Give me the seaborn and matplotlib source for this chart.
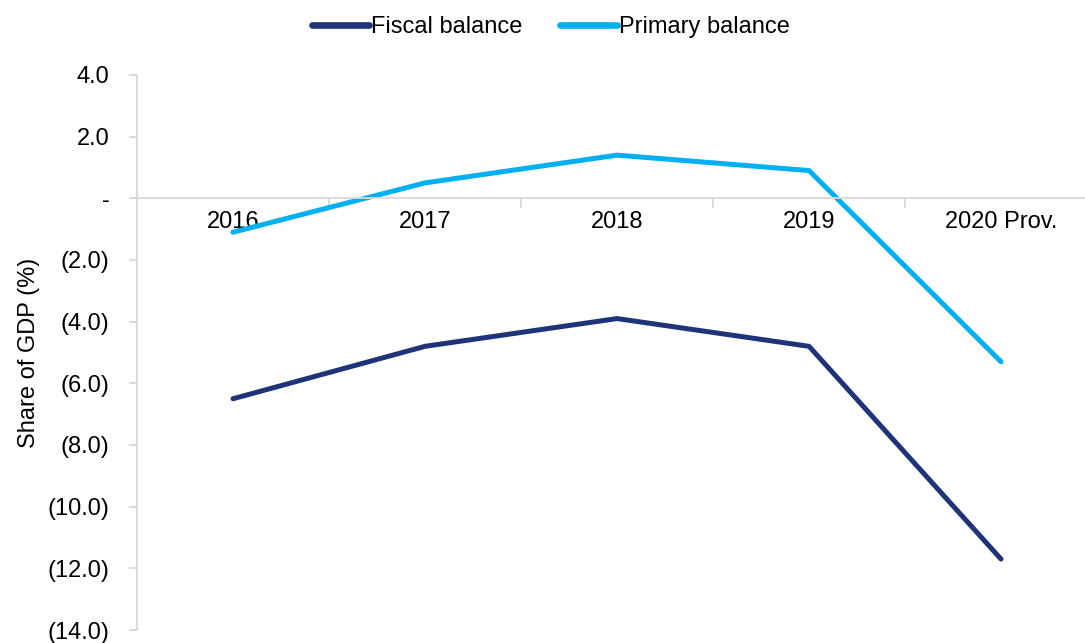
import seaborn as sns
import matplotlib.pyplot as plt
import pandas as pd
from matplotlib.ticker import FixedLocator, FuncFormatter
from matplotlib.lines import Line2D

years = ['2016', '2017', '2018', '2019', '2020 Prov.']
fiscal_balance = [-6.5, -4.8, -3.9, -4.8, -11.7]
primary_balance = [-1.1, 0.5, 1.4, 0.9, -5.3]

#long form table for seaborn
df = pd.DataFrame({
    'Year': years * 2,
    'Value': fiscal_balance + primary_balance,
    'Series': ['Fiscal balance'] * len(years) + ['Primary balance'] * len(years),
})

sns.set_style('white')
plt.rcParams['font.family'] = ['Liberation Sans', 'DejaVu Sans']
plt.rcParams['text.color'] = 'black'
plt.rcParams['axes.labelcolor'] = 'black'
plt.rcParams['xtick.color'] = 'black'
plt.rcParams['ytick.color'] = 'black'

fig = plt.figure(figsize=(10.85, 6.43), dpi=100)
ax = fig.add_axes([0.1263, 0.0202, 0.8848, 0.8632])

palette = {'Fiscal balance': '#1F3478', 'Primary balance': '#00B0F0'}
sns.lineplot(data=df, x='Year', y='Value', hue='Series', palette=palette,
             linewidth=3.6, sort=False, ax=ax, legend=False)

ax.set_xlim(-0.5, 4.5)
ax.set_ylim(-14, 4)

# axes styling (excel look)
grey = '#D9D9D9'
for side in ['top', 'right']:
    ax.spines[side].set_visible(False)
ax.spines['left'].set_color(grey)
ax.spines['bottom'].set_color(grey)
ax.spines['left'].set_linewidth(1.3)
ax.spines['bottom'].set_linewidth(1.3)
ax.spines['bottom'].set_position(('data', 0))

ax.set_yticks(range(-14, 5, 2))
def fmt(v, pos):
    if abs(v) < 1e-9:
        return '-'
    if v < 0:
        return '({:.1f})'.format(-v)
    return '{:.1f}'.format(v)
ax.yaxis.set_major_formatter(FuncFormatter(fmt))
ax.tick_params(axis='y', which='major', left=True, length=6, color=grey, width=1.3,
               labelsize=17, pad=14, labelcolor='black')

# category ticks between labels, labels on category centres
ax.xaxis.set_major_locator(FixedLocator([0.5, 1.5, 2.5, 3.5]))
ax.xaxis.set_minor_locator(FixedLocator(range(len(years))))
ax.xaxis.set_major_formatter(FuncFormatter(lambda v, p: ''))
ax.set_xticklabels(years, minor=True)
ax.tick_params(axis='x', which='major', bottom=True, length=7, color=grey, width=1.3)
ax.tick_params(axis='x', which='minor', bottom=False, length=0, labelsize=17, pad=9,
               labelcolor='black')

ax.set_xlabel('')
ax.set_ylabel('Share of GDP (%)', fontsize=17, labelpad=5, color='black')

handles = [Line2D([], [], color=palette[k], linewidth=4.8, solid_capstyle='round')
           for k in ['Fiscal balance', 'Primary balance']]
fig.legend(handles, ['Fiscal balance', 'Primary balance'], loc='upper center',
           bbox_to_anchor=(0.508, 1.008), ncol=2, frameon=False, fontsize=17,
           handlelength=2.4, handletextpad=0.1, columnspacing=1.6)

fig.savefig('out.png', dpi=100)
